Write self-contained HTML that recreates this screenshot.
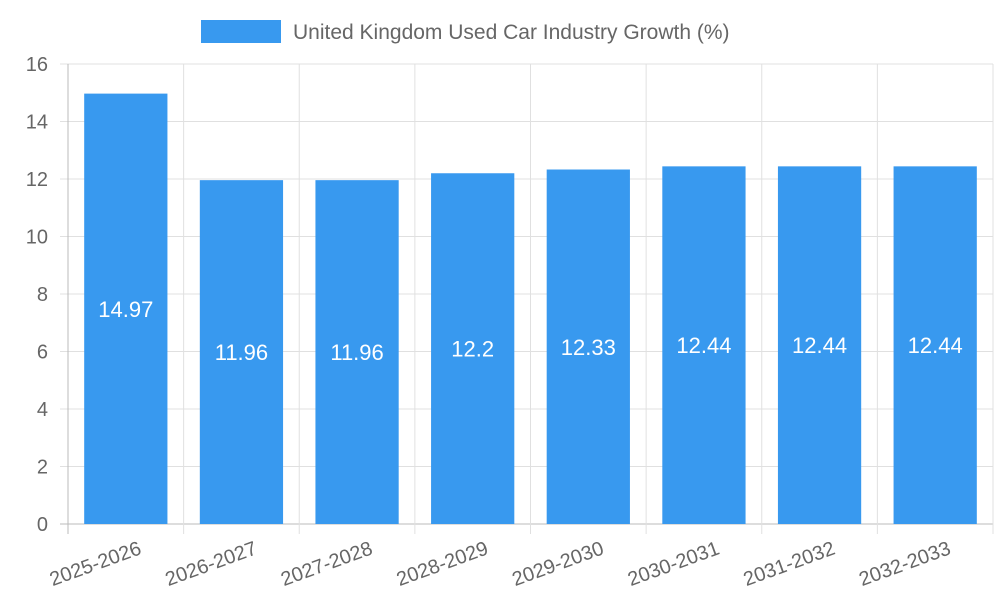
<!DOCTYPE html>
<html><head><meta charset="utf-8"><style>
html,body{margin:0;padding:0;background:#fff;}
svg{display:block;font-family:"Liberation Sans",sans-serif;}
</style></head><body>
<svg id="chart" width="1000" height="600"></svg>
<script>
const categories=["2025-2026","2026-2027","2027-2028","2028-2029","2029-2030","2030-2031","2031-2032","2032-2033"];
const values=[14.97,11.96,11.96,12.2,12.33,12.44,12.44,12.44];
const yTicks=[0,2,4,6,8,10,12,14,16];
const NS="http://www.w3.org/2000/svg";
const svg=document.getElementById('chart');
const L=68,R=993,T=64,B=524,yMax=16;
const band=(R-L)/categories.length;
const y=v=>B-(v/yMax)*(B-T);
const xb=i=>L+i*band;
function mk(tag,attrs,parent){const e=document.createElementNS(NS,tag);for(const k in attrs)e.setAttribute(k,attrs[k]);(parent||svg).appendChild(e);return e;}
// grid
const grid=mk('g',{});


yTicks.forEach(t=>{
  const l=mk('line',{x1:L-8,x2:R,y1:y(t),y2:y(t),stroke:t===0?'#bbb':'#e0e0e0','stroke-width':1},grid);
  
  
  const tx=mk('text',{x:L-20,y:y(t)+7,'text-anchor':'end','font-size':20,fill:'#666'});
  tx.textContent=t;
  
  
});
for(let i=0;i<=categories.length;i++){
  const l=mk('line',{x1:xb(i),x2:xb(i),y1:T,y2:B+10,stroke:i===0?'#bbb':'#e0e0e0','stroke-width':1},grid);
  
  
}
// bars
categories.forEach((c,i)=>{
  const bw=band*0.72,x0=xb(i)+(band-bw)/2;
  const r=mk('rect',{x:x0,y:y(values[i]),width:bw,height:B-y(values[i]),fill:'#3899ef'});
  
  
  const v=mk('text',{x:x0+bw/2,y:(y(values[i])+B)/2+8,'text-anchor':'middle','font-size':22,fill:'#fff'});
  v.textContent=values[i];
  
  
  const cx=xb(i)+band/2+14, cy=B+22;
  const t=mk('text',{x:cx,y:cy+8,'text-anchor':'end','font-size':20,fill:'#666',transform:`rotate(-20 ${cx} ${cy})`});
  t.textContent=c;
  
  
});
// legend
const lg=mk('g',{});


mk('rect',{x:201,y:20,width:80,height:23,fill:'#3899ef'},lg);
const lt=mk('text',{x:293,y:39,'font-size':21,fill:'#666'},lg);
lt.textContent='United Kingdom Used Car Industry Growth (%)';
</script>
</body></html>
